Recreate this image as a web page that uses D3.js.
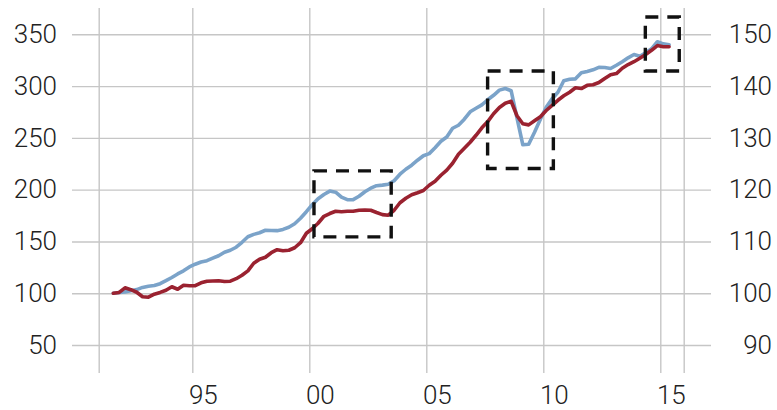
<!DOCTYPE html>
<html>
<head>
<meta charset="utf-8">
<script src="https://cdn.jsdelivr.net/npm/d3@7"></script>
<style>
  html, body { margin: 0; padding: 0; background: #fff; }
  svg { display: block; }
  .tick text { font-family: Roboto, "Helvetica Neue", Arial, sans-serif; font-weight: 300; fill: #222; }
</style>
</head>
<body>
<svg id="chart" width="777" height="410"></svg>
<script>
// ---- Data (quarterly, starting 1991 Q3) ----
const startYear = 1991.625;
const blueValues = [
  100, 100.7, 101.3, 102.4, 103.5, 105.6, 106.8, 107.4, 109.2, 112.1,
  115.2, 118.6, 121.6, 125.4, 128, 130.1, 131.4, 133.8, 136.2, 139.6,
  141.5, 144.4, 149.2, 154.5, 156.8, 158.4, 160.8, 160.5, 160.4, 161.6,
  163.7, 167.1, 172.4, 178.7, 185.4, 191.2, 195.3, 198.6, 197.5, 192.7,
  190.3, 190.4, 193.6, 198, 201.4, 203.8, 204.4, 205.2, 208.6, 214.9,
  219.7, 223.6, 228.4, 232.7, 234.8, 240.4, 246.7, 250.9, 259.3, 262.2,
  268, 275.2, 278.6, 281.9, 286.8, 291.1, 296.1, 297.7, 295.5, 269.4,
  243.3, 243.8, 255.4, 268, 279.5, 287.7, 294, 305.1, 306.6, 307,
  312.8, 314.1, 315.7, 318.1, 317.9, 317, 320.1, 323.5, 327.3, 330.5,
  328.8, 332.1, 336, 342.8, 340.8, 339.9
];
const redValues = [
  100, 100.15, 101.04, 100.68, 100.19, 99.32, 99.23, 99.81, 100.15, 100.58,
  101.25, 100.77, 101.54, 101.43, 101.45, 102.01, 102.32, 102.36, 102.41, 102.26,
  102.32, 102.8, 103.47, 104.31, 105.79, 106.56, 106.95, 107.82, 108.4, 108.2,
  108.3, 108.78, 109.75, 111.58, 112.45, 113.51, 114.86, 115.39, 115.83, 115.73,
  115.83, 115.83, 116.02, 116.08, 116.02, 115.58, 115.17, 115.06, 116.02, 117.47,
  118.34, 119.02, 119.4, 119.83, 120.85, 121.62, 122.78, 123.78, 125.1, 126.83,
  127.99, 129.15, 130.5, 131.95, 133.15, 134.65, 135.85, 136.68, 137.07, 134.27,
  132.72, 132.51, 133.3, 134.09, 135.29, 136.29, 137.26, 138.13, 138.82, 139.67,
  139.52, 140.15, 140.27, 140.68, 141.47, 142.2, 142.41, 143.44, 144.15, 144.71,
  145.37, 146.1, 146.91, 147.82, 147.59, 147.59
];
const periods = blueValues.map((_, i) => startYear + i * 0.25);

const leftTicks = [50, 100, 150, 200, 250, 300, 350];
const rightTicks = [90, 100, 110, 120, 130, 140, 150];
const xGridYears = [1991, 1995, 2000, 2005, 2010, 2015, 2016];
const xLabelYears = [1995, 2000, 2005, 2010, 2015];
const xLabels = ["95", "00", "05", "10", "15"];

// highlighted episodes: [startYear, endYear, low, high] in left-axis units
const highlightBoxes = [
  [2000.2, 2003.5, 154.4, 218.1],
  [2007.62, 2010.43, 220.4, 314.6],
  [2014.36, 2015.81, 314.6, 366.7]
];

// ---- Layout ----
const svg = d3.select("#chart");
const plotTop = 8, plotBottom = 373;
const gridLeft = 72, gridRight = 711;

const x = d3.scaleLinear().domain([1991, 2016]).range([98.7, 683.7]);
const yL = d3.scaleLinear().domain([50, 350]).range([345, 34.3]);
const yR = d3.scaleLinear().domain([90, 150]).range([345, 34.3]);

const gridColor = "#c6c6c6";

// Horizontal grid + left labels
const gLeft = svg.append("g")
  .attr("transform", `translate(${gridLeft},0)`)
  .call(d3.axisLeft(yL).tickValues(leftTicks).tickSize(-(gridRight - gridLeft)).tickPadding(15).tickFormat(d3.format("d")));
gLeft.select(".domain").remove();
gLeft.selectAll(".tick line").attr("stroke", gridColor).attr("stroke-width", 1.4);
gLeft.selectAll(".tick text").style("font-size", "26px");

// Right labels
const gRight = svg.append("g")
  .attr("transform", `translate(${gridRight},0)`)
  .call(d3.axisRight(yR).tickValues(rightTicks).tickSize(0).tickFormat(d3.format("d")));
gRight.select(".domain").remove();
gRight.selectAll(".tick text").attr("x", 61).attr("text-anchor", "end").style("font-size", "26px");

// Vertical grid
const gXGrid = svg.append("g")
  .attr("transform", `translate(0,${plotBottom})`)
  .call(d3.axisBottom(x).tickValues(xGridYears).tickSize(-(plotBottom - plotTop)).tickFormat(""));
gXGrid.select(".domain").remove();
gXGrid.selectAll(".tick line").attr("stroke", gridColor).attr("stroke-width", 1.4);

// X labels
const gX = svg.append("g")
  .attr("transform", `translate(0,${plotBottom})`)
  .call(d3.axisBottom(x).tickValues(xLabelYears).tickSize(0).tickPadding(13)
    .tickFormat((d, i) => xLabels[i]));
gX.select(".domain").remove();
gX.selectAll(".tick text").attr("dx", 10.5).style("font-size", "26px");

// Lines
const blueLine = d3.line().x((d, i) => x(periods[i])).y(d => yL(d));
const redLine = d3.line().x((d, i) => x(periods[i])).y(d => yR(d));

svg.append("path").datum(blueValues)
  .attr("d", blueLine).attr("fill", "none")
  .attr("stroke", "#7ba3c9").attr("stroke-width", 3.6)
  .attr("stroke-linejoin", "round").attr("stroke-linecap", "round");

svg.append("path").datum(redValues)
  .attr("d", redLine).attr("fill", "none")
  .attr("stroke", "#9a2230").attr("stroke-width", 3.6)
  .attr("stroke-linejoin", "round").attr("stroke-linecap", "round");

// Highlight boxes
svg.append("g").selectAll("rect").data(highlightBoxes).join("rect")
  .attr("x", d => x(d[0]))
  .attr("y", d => yL(d[3]))
  .attr("width", d => x(d[1]) - x(d[0]))
  .attr("height", d => yL(d[2]) - yL(d[3]))
  .attr("fill", "none")
  .attr("stroke", "#111")
  .attr("stroke-width", 3.4)
  .attr("stroke-dasharray", "13,9");
</script>
</body>
</html>
